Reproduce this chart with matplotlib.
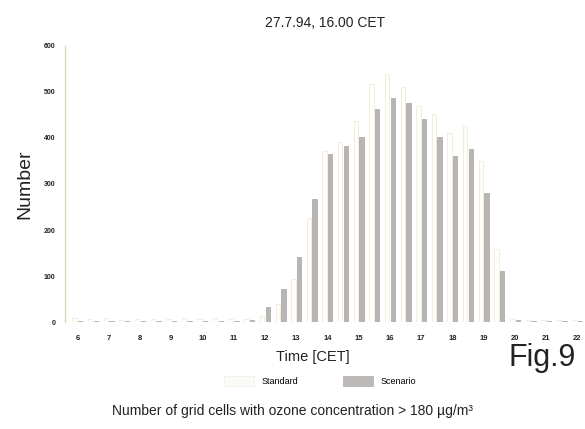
import matplotlib.pyplot as plt
from matplotlib.patches import Patch

# half-hourly time steps (CET)
times = [6.0, 6.5, 7.0, 7.5, 8.0, 8.5, 9.0, 9.5, 10.0, 10.5, 11.0, 11.5,
         12.0, 12.5, 13.0, 13.5, 14.0, 14.5, 15.0, 15.5, 16.0, 16.5, 17.0, 17.5,
         18.0, 18.5, 19.0, 19.5, 20.0, 20.5, 21.0, 21.5, 22.0, 22.5]

standard = [8, 6, 8, 5, 6, 6, 7, 8, 7, 8, 6, 6,
            12, 40, 93, 226, 372, 392, 437, 517, 539, 510, 470, 452,
            411, 426, 350, 159, 6, 5, 5, 5, 5, 5]

scenario = [2, 2, 2, 2, 2, 2, 2, 2, 2, 2, 2, 5,
            33, 72, 141, 267, 365, 383, 402, 463, 486, 476, 441, 402,
            361, 376, 280, 110, 4, 3, 3, 3, 3, 3]

hour_ticks = list(range(6, 23))

plt.rcParams['font.family'] = ['Liberation Sans', 'DejaVu Sans']

fig = plt.figure(figsize=(5.85, 4.29), dpi=100)
ax = fig.add_axes([0.111, 0.2494, 0.889, 0.6434])

w = 0.14
xs_std = [t - 0.09 for t in times]
xs_sc = [t + 0.09 for t in times]
ax.bar(xs_std, standard, width=w, color="#fefefb", edgecolor="#efecd8",
       linewidth=0.6)
ax.bar(xs_sc, scenario, width=w, color="#bab5b5", edgecolor="#a9a4a4",
       linewidth=0.5)

ax.set_xlim(5.6, 22.24)
ax.set_ylim(0, 600)
ax.set_yticks([0, 100, 200, 300, 400, 500, 600])
ax.set_xticks(hour_ticks)
ax.tick_params(axis="y", length=0, labelsize=5, pad=7, colors="#222222")
ax.tick_params(axis="x", length=0, labelsize=5.5, pad=9, colors="#222222")
for lab in ax.get_xticklabels() + ax.get_yticklabels():
    lab.set_fontweight("bold")
for s in ["top", "right", "bottom"]:
    ax.spines[s].set_visible(False)
ax.spines["left"].set_color("#d8d4b8")
ax.spines["left"].set_linewidth(0.9)

ax.set_ylabel("Number", fontsize=14, color="#222222", labelpad=7)

fig.text(0.556, 0.946, "27.7.94, 16.00 CET", ha="center", va="center",
         fontsize=10, color="#222222")
fig.text(0.535, 0.167, "Time [CET]", ha="center", va="center",
         fontsize=10.5, color="#222222")
fig.text(0.870, 0.165, "Fig.9", ha="left", va="center",
         fontsize=22, color="#222222")
fig.text(0.5, 0.043, "Number of grid cells with ozone concentration > 180 µg/m³",
         ha="center", va="center", fontsize=10, color="#222222")

handles = [Patch(facecolor="#fbfbf6", edgecolor="#eeeeee", linewidth=0.5),
           Patch(facecolor="#bdb8b8", edgecolor="#b0abab", linewidth=0.5)]
fig.legend(handles, ["Standard", "Scenario"], loc="center",
           bbox_to_anchor=(0.547, 0.112), ncol=2, frameon=False,
           fontsize=6.5, handlelength=3.3, handleheight=1.4,
           columnspacing=5.0, handletextpad=0.8)

fig.savefig("out.png", dpi=100)
